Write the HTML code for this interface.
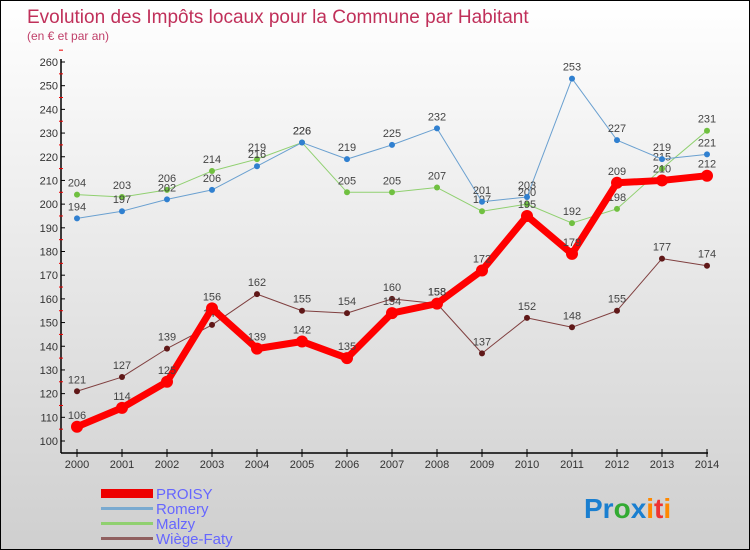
<!DOCTYPE html>
<html><head><meta charset="utf-8"><style>
body{margin:0;}
#c{width:750px;height:550px;position:relative;box-sizing:border-box;border:1px solid #000;background:linear-gradient(#fff,#cfcfcf);font-family:"Liberation Sans",sans-serif;overflow:hidden}
svg{position:absolute;left:0;top:0}
</style></head><body>
<div id="c">
<svg id="s" width="750" height="550">
<text x="26" y="22" font-size="19" fill="#c0305a">Evolution des Impôts locaux pour la Commune par Habitant</text>
<text x="26" y="39" font-size="12" fill="#c0406a">(en € et par an)</text>
<g id="g"></g>
<g>
<rect x="100" y="488" width="52" height="9" fill="#e00"/>
<text x="155" y="498" font-size="15" fill="#66f">PROISY</text>
<rect x="100" y="506" width="52" height="3" fill="#7aaad0"/>
<text x="155" y="513" font-size="15" fill="#66f">Romery</text>
<rect x="100" y="521" width="52" height="3" fill="#90d070"/>
<text x="155" y="528" font-size="15" fill="#66f">Malzy</text>
<rect x="100" y="536" width="52" height="3" fill="#906060"/>
<text x="155" y="543" font-size="15" fill="#66f">Wiège-Faty</text>
</g>
<text x="583" y="517" font-size="28" font-weight="bold"><tspan fill="#1a7fd0">Pr</tspan><tspan fill="#3a3">o</tspan><tspan fill="#1a7fd0">x</tspan><tspan fill="#f80">i</tspan><tspan fill="#e33">t</tspan><tspan fill="#f80">i</tspan></text>
</svg></div>
<script>
const years=[2000,2001,2002,2003,2004,2005,2006,2007,2008,2009,2010,2011,2012,2013,2014];
const proisy=[106,114,125,156,139,142,135,154,158,172,195,179,209,210,212];
const romery=[194,197,202,206,216,226,219,225,232,201,203,253,227,219,221];
const malzy=[204,203,206,214,219,226,205,205,207,197,200,192,198,215,231];
const wiege=[121,127,139,149,162,155,154,160,158,137,152,148,155,177,174];
const yTicks=[100,110,120,130,140,150,160,170,180,190,200,210,220,230,240,250,260];
const NS="http://www.w3.org/2000/svg";
const g=document.getElementById('g');
const X=i=>76+i*(706-76)/(years.length-1);
const Y=v=>440-(v-100)*(440-61)/160;
function mk(t,a){const e=document.createElementNS(NS,t);for(const k in a)e.setAttribute(k,a[k]);g.appendChild(e);return e;}
let e=mk('line',{x1:60,y1:58,x2:60,y2:452,stroke:'#000','stroke-width':1.5});


e=mk('line',{x1:60,y1:452,x2:707,y2:452,stroke:'#000','stroke-width':1.5});


yTicks.forEach(v=>{
 e=mk('line',{x1:60,y1:Y(v),x2:64,y2:Y(v),stroke:'#000'});
 
 
 e=mk('line',{x1:58,y1:Y(v+5),x2:62,y2:Y(v+5),stroke:'#e00'});
 
 
 e=mk('text',{x:57,y:Y(v)+4,'font-size':11,fill:'#333','text-anchor':'end'});e.textContent=v;
 
 
});
years.forEach((yr,i)=>{
 e=mk('line',{x1:X(i),y1:448,x2:X(i),y2:456,stroke:'#000'});
 
 
 e=mk('text',{x:X(i),y:467,'font-size':11,fill:'#333','text-anchor':'middle'});e.textContent=yr;
 
 
});
function series(d,col,w,r,dot,name){
 e=mk('polyline',{points:d.map((v,i)=>X(i)+','+Y(v)).join(' '),fill:'none',stroke:col,'stroke-width':w,'stroke-linejoin':'round'});
 
 
 d.forEach((v,i)=>{
  e=mk('circle',{cx:X(i),cy:Y(v),r:r,fill:dot});
  
  
  e=mk('text',{x:X(i),y:Y(v)-8,'font-size':11,fill:'#444','text-anchor':'middle'});e.textContent=v;
  
  
 });
}
series(wiege,'#804040',1,3,'#601818','wiege-faty');
series(malzy,'#90d070',1,3,'#70c040','malzy');
series(romery,'#6aa0d0',1,3,'#3080d0','romery');
series(proisy,'#f00',7,6,'#f00','proisy');
</script>
</body></html>
